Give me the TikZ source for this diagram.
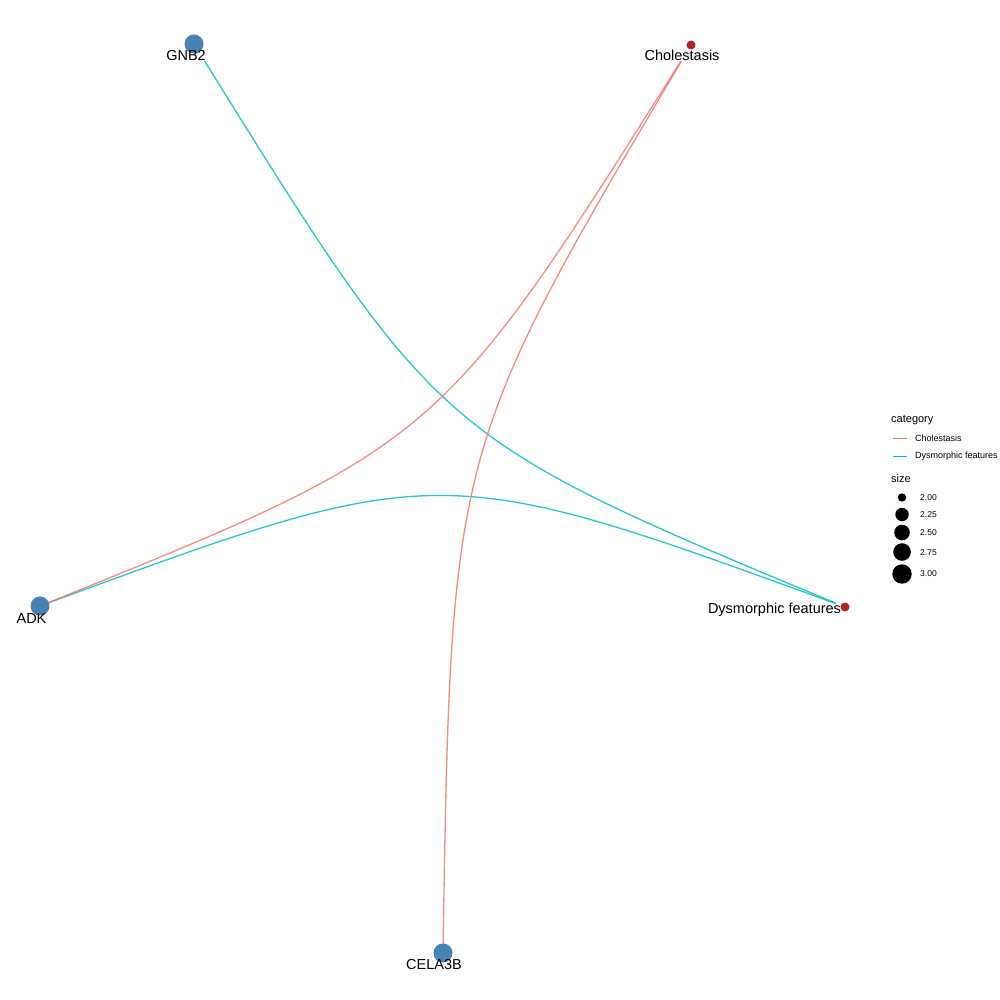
\documentclass[tikz,border=0pt]{standalone}
\usepackage{fontspec}
\setmainfont{Liberation Sans}
\definecolor{cholred}{HTML}{F8766D}
\definecolor{dysteal}{HTML}{00BFC4}
\definecolor{genecol}{HTML}{4682B4}
\definecolor{phenocol}{HTML}{B22222}
\begin{document}
\begin{tikzpicture}[x=1pt,y=-1pt,
  edge/.style={line width=1.3pt,draw opacity=0.85},
  cholestasis/.style={edge,draw=cholred},
  dysmorphic/.style={edge,draw=dysteal},
  gene/.style={circle,fill=genecol,inner sep=0pt,minimum size=19pt},
  pheno/.style={circle,fill=phenocol,inner sep=0pt,minimum size=9pt},
  lbl/.style={anchor=base,inner sep=0pt,font=\fontsize{14.5}{17}\selectfont,text=black},
  legtitle/.style={anchor=west,inner sep=0pt,font=\fontsize{11}{13}\selectfont},
  legtext/.style={anchor=west,inner sep=0pt,font=\fontsize{9}{10}\selectfont},
  legline/.style={line width=1pt},
  legnum/.style={anchor=west,inner sep=0pt,font=\fontsize{8.5}{10}\selectfont},
  sizedot/.style={circle,fill=black,inner sep=0pt}]
\useasboundingbox[fill=white] (0,0) rectangle (1000,1000);

% node positions
\coordinate (pGNB2) at (194,44);
\coordinate (pChol) at (691,45);
\coordinate (pADK) at (40,606);
\coordinate (pDys) at (845,607);
\coordinate (pCELA) at (443,953);

% control points
\coordinate (qGD) at (439,438);
\coordinate (qAD) at (439,459);
\coordinate (qCA) at (439,445);
\coordinate (qCC) at (451,450);

% edges
\draw[dysmorphic,shorten <=20pt,shorten >=10pt] (pGNB2) .. controls (qGD) and (qGD) .. (pDys);
\draw[dysmorphic,shorten >=10pt] (pADK) .. controls (qAD) and (qAD) .. (pDys);
\draw[cholestasis,shorten <=19pt] (pChol) .. controls (qCA) and (qCA) .. (pADK);
\draw[cholestasis,shorten <=19pt] (pChol) .. controls (qCC) and (qCC) .. (pCELA);

% nodes
\node[gene] (GNB2) at (pGNB2) {};
\node[gene] (ADK) at (pADK) {};
\node[gene] (CELA3B) at (pCELA) {};
\node[pheno] (Chol) at (pChol) {};
\node[pheno] (Dys) at (pDys) {};

% labels
\node[lbl] (tGNB2) at (186,60.5) {GNB2};
\node[lbl] (tChol) at (682,61) {Cholestasis};
\node[lbl] (tADK) at (31.5,623) {ADK};
\node[lbl] (tDys) at (774.5,613) {Dysmorphic features};
\node[lbl] (tCELA) at (434,969.5) {CELA3B};

% legend
\node[legtitle] (legcat) at (891,420.5) {category};
\coordinate (lr1) at (893,438.5);
\coordinate (lr2) at (907,438.5);
\draw[legline,cholred] (lr1) -- (lr2);
\node[legtext] (legchol) at (915,438.5) {Cholestasis};
\coordinate (lt1) at (893,456);
\coordinate (lt2) at (907,456);
\draw[legline,dysteal] (lt1) -- (lt2);
\node[legtext] (legdys) at (915,456) {Dysmorphic features};
\node[legtitle] (legsize) at (891,478.5) {size};
\node[sizedot,minimum size=8.4pt] (s1) at (902,497.5) {};
\node[sizedot,minimum size=13.4pt] (s2) at (902,514.5) {};
\node[sizedot,minimum size=15.6pt] (s3) at (902,532.5) {};
\node[sizedot,minimum size=17.6pt] (s4) at (902,552) {};
\node[sizedot,minimum size=19.4pt] (s5) at (902,574) {};
\node[legnum] (n1) at (920,497.5) {2.00};
\node[legnum] (n2) at (920,515) {2.25};
\node[legnum] (n3) at (920,533) {2.50};
\node[legnum] (n4) at (920,552.5) {2.75};
\node[legnum] (n5) at (920,574) {3.00};
\end{tikzpicture}
\end{document}
